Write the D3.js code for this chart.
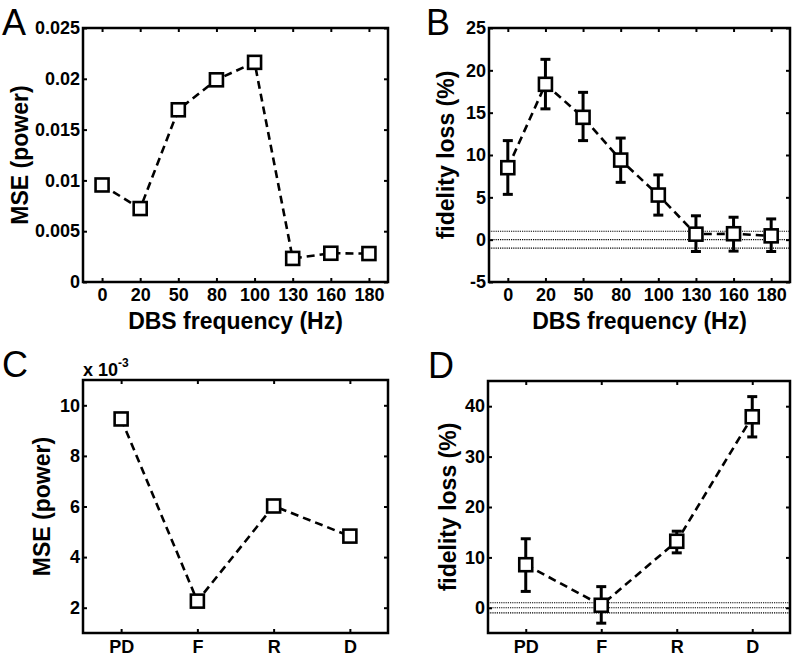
<!DOCTYPE html>
<html>
<head>
<meta charset="utf-8">
<script src="https://cdn.jsdelivr.net/npm/d3@7"></script>
<style>
  html, body { margin: 0; padding: 0; background: #fff; }
  svg { display: block; font-family: "Liberation Sans", Arial, sans-serif; }
</style>
</head>
<body>
<svg id="chart" width="796" height="660"></svg>
<script>
// ---------- data ----------
const freqLabels = ["0", "20", "50", "80", "100", "130", "160", "180"];
const mseFreq = [0.00955, 0.00723, 0.01695, 0.0199, 0.02162, 0.00232, 0.00283, 0.0028];
const fidFreq = [8.5, 18.35, 14.45, 9.4, 5.27, 0.65, 0.7, 0.45];
const fidFreqLow = [5.35, 15.45, 11.7, 6.77, 2.9, -1.4, -1.35, -1.4];
const fidFreqHigh = [11.7, 21.3, 17.4, 12.0, 7.65, 2.82, 2.65, 2.45];

const condLabels = ["PD", "F", "R", "D"];
const mseCond = [9.46, 2.26, 6.02, 4.83]; // x 10^-3
const fidCond = [8.55, 0.5, 13.2, 37.9];
const fidCondLow = [3.25, -3.05, 10.9, 33.9];
const fidCondHigh = [13.7, 4.2, 15.2, 41.9];

const ticksA = [0, 0.005, 0.01, 0.015, 0.02, 0.025];
const ticksB = [-5, 0, 5, 10, 15, 20, 25];
const ticksC = [2, 4, 6, 8, 10];
const ticksD = [0, 10, 20, 30, 40];
const refLines = [-1, 0, 1];

// ---------- drawing ----------
const svg = d3.select("#chart");

function panel(opts) {
  const { box, labels, values, low, high, yDomain, yTicks, yFmt, xTitle, yTitle, yTitleX, letter, letterPos, refs, exponent, xPad } = opts;
  const g = svg.append("g");
  const x = d3.scaleLinear().domain([0.5, labels.length + 0.5]).range([box.l, box.r]);
  const y = d3.scaleLinear().domain(yDomain).range([box.b, box.t]);
  const idx = labels.map((d, i) => i + 1);

  // reference dotted lines
  if (refs) {
    g.selectAll("line.ref").data(refs).enter().append("line")
      .attr("x1", box.l).attr("x2", box.r)
      .attr("y1", d => y(d)).attr("y2", d => y(d))
      .attr("stroke", "#000").attr("stroke-width", 1.1)
      .attr("stroke-dasharray", "1.2,1");
  }

  // axes
  const fs = 18;
  const xb = g.append("g").attr("transform", `translate(0,${box.b})`)
    .call(d3.axisBottom(x).tickValues(idx).tickFormat((d, i) => labels[i])
      .tickSizeInner(-4).tickSizeOuter(0).tickPadding(xPad));
  const xt = g.append("g").attr("transform", `translate(0,${box.t})`)
    .call(d3.axisTop(x).tickValues(idx).tickFormat("").tickSizeInner(-4).tickSizeOuter(0));
  const yl = g.append("g").attr("transform", `translate(${box.l},0)`)
    .call(d3.axisLeft(y).tickValues(yTicks).tickFormat(yFmt)
      .tickSizeInner(-4).tickSizeOuter(0).tickPadding(3));
  const yr = g.append("g").attr("transform", `translate(${box.r},0)`)
    .call(d3.axisRight(y).tickValues(yTicks).tickFormat("").tickSizeInner(-4).tickSizeOuter(0));
  [xb, xt, yl, yr].forEach(a => {
    a.select(".domain").remove();
    a.selectAll(".tick line").attr("stroke", "#000").attr("stroke-width", 2);
    a.selectAll("text").attr("font-size", fs).attr("font-weight", "bold")
      .attr("font-family", "Liberation Sans, Arial, sans-serif").attr("fill", "#000");
  });

  // box
  g.append("rect").attr("x", box.l).attr("y", box.t)
    .attr("width", box.r - box.l).attr("height", box.b - box.t)
    .attr("fill", "none").attr("stroke", "#000").attr("stroke-width", 2.5);

  // dashed line
  const line = d3.line().x((d, i) => x(i + 1)).y(d => y(d));
  g.append("path").datum(values).attr("d", line)
    .attr("fill", "none").attr("stroke", "#000").attr("stroke-width", 2.6)
    .attr("stroke-dasharray", "8,5");

  // error bars
  if (low) {
    const eb = g.selectAll("g.eb").data(values).enter().append("g")
      .attr("stroke", "#000").attr("stroke-width", 3);
    eb.append("line").attr("x1", (d, i) => x(i + 1)).attr("x2", (d, i) => x(i + 1))
      .attr("y1", (d, i) => y(low[i])).attr("y2", (d, i) => y(high[i]));
    eb.append("line").attr("x1", (d, i) => x(i + 1) - 5).attr("x2", (d, i) => x(i + 1) + 5)
      .attr("y1", (d, i) => y(low[i])).attr("y2", (d, i) => y(low[i]));
    eb.append("line").attr("x1", (d, i) => x(i + 1) - 5).attr("x2", (d, i) => x(i + 1) + 5)
      .attr("y1", (d, i) => y(high[i])).attr("y2", (d, i) => y(high[i]));
  }

  // markers
  const ms = 13;
  g.selectAll("rect.m").data(values).enter().append("rect")
    .attr("x", (d, i) => x(i + 1) - ms / 2).attr("y", d => y(d) - ms / 2)
    .attr("width", ms).attr("height", ms)
    .attr("fill", "#fff").attr("stroke", "#000").attr("stroke-width", 2.6);

  // titles
  if (xTitle) {
    g.append("text").attr("x", (box.l + box.r) / 2).attr("y", box.b + 47)
      .attr("text-anchor", "middle").attr("font-size", 23).attr("font-weight", "bold")
      .text(xTitle);
  }
  g.append("text")
    .attr("transform", `translate(${yTitleX},${(box.t + box.b) / 2}) rotate(-90)`)
    .attr("text-anchor", "middle").attr("font-size", 23).attr("font-weight", "bold")
    .text(yTitle);

  g.append("text").attr("x", letterPos[0]).attr("y", letterPos[1])
    .attr("font-size", 36).text(letter);

  if (exponent) {
    const t = g.append("text").attr("x", box.l).attr("y", box.t - 4)
      .attr("font-size", 18).attr("font-weight", "bold");
    t.append("tspan").text("x 10");
    t.append("tspan").attr("dy", -9).attr("font-size", 12).text(exponent);
  }
}

panel({
  box: { l: 83, t: 28, r: 388, b: 282 },
  labels: freqLabels, values: mseFreq, xPad: 6,
  yDomain: [0, 0.025], yTicks: ticksA, yFmt: d => d === 0 ? "0" : String(+d.toFixed(3)),
  xTitle: "DBS frequency (Hz)", yTitle: "MSE (power)", yTitleX: 28,
  letter: "A", letterPos: [2, 35]
});

panel({
  box: { l: 489, t: 28, r: 790, b: 282 },
  labels: freqLabels, values: fidFreq, low: fidFreqLow, high: fidFreqHigh, xPad: 6,
  yDomain: [-5, 25], yTicks: ticksB, yFmt: d => String(d),
  xTitle: "DBS frequency (Hz)", yTitle: "fidelity loss (%)", yTitleX: 454,
  letter: "B", letterPos: [426, 35], refs: refLines
});

panel({
  box: { l: 83, t: 380, r: 388, b: 633 },
  labels: condLabels, values: mseCond, xPad: 7,
  yDomain: [1, 11], yTicks: ticksC, yFmt: d => String(d),
  xTitle: null, yTitle: "MSE (power)", yTitleX: 50,
  letter: "C", letterPos: [2, 377], exponent: "-3"
});

panel({
  box: { l: 488, t: 381, r: 790, b: 633 },
  labels: condLabels, values: fidCond, low: fidCondLow, high: fidCondHigh, xPad: 7,
  yDomain: [-5, 45], yTicks: ticksD, yFmt: d => String(d),
  xTitle: null, yTitle: "fidelity loss (%)", yTitleX: 456,
  letter: "D", letterPos: [428, 378], refs: refLines
});
</script>
</body>
</html>
